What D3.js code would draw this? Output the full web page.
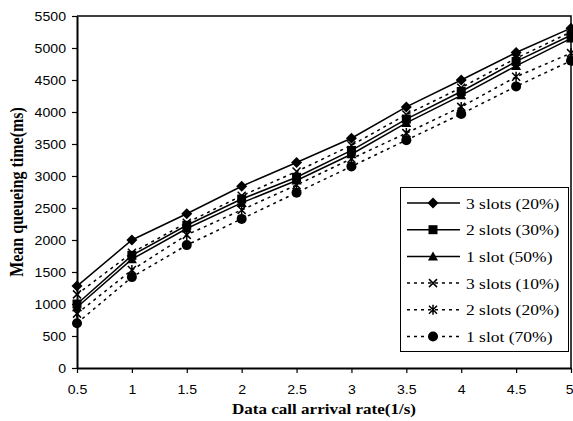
<!DOCTYPE html>
<html>
<head>
<meta charset="utf-8">
<script src="https://cdn.jsdelivr.net/npm/d3@7"></script>
<style>
  body { margin: 0; background: #fff; }
  svg { display: block; }
</style>
</head>
<body>
<svg id="chart" width="573" height="421"></svg>
<script>
// data
const rates = [0.5, 1, 1.5, 2, 2.5, 3, 3.5, 4, 4.5, 5];
const yTicks = [0, 500, 1000, 1500, 2000, 2500, 3000, 3500, 4000, 4500, 5000, 5500];

const slots3_20 = [1280, 2000, 2410, 2840, 3210, 3590, 4080, 4500, 4930, 5310];
const slots2_30 = [1000, 1760, 2230, 2640, 2980, 3400, 3890, 4320, 4790, 5200];
const slot1_50  = [950, 1700, 2180, 2580, 2930, 3340, 3830, 4260, 4720, 5150];
const slots3_10 = [1150, 1800, 2270, 2690, 3070, 3480, 3960, 4380, 4840, 5250];
const slots2_20 = [850, 1530, 2080, 2470, 2860, 3270, 3670, 4080, 4550, 4920];
const slot1_70  = [700, 1420, 1920, 2330, 2740, 3150, 3560, 3970, 4400, 4800];

const seriesNames = ['3 slots (20%)', '2 slots (30%)', '1 slot (50%)', '3 slots (10%)', '2 slots (20%)', '1 slot (70%)'];
const seriesValues = [slots3_20, slots2_30, slot1_50, slots3_10, slots2_20, slot1_70];
const seriesMarkers = ['diamond', 'square', 'triangle', 'x', 'star', 'circle'];
const seriesDashed = [false, false, false, true, true, true];

const svg = d3.select('#chart');
const plotLeft = 77, plotRight = 571, plotTop = 16, plotBottom = 368;
const stretch = 1.13; // the reference text is a bit wide

const x = d3.scaleLinear().domain([0.5, 5]).range([plotLeft, plotRight]);
const y = d3.scaleLinear().domain([0, 5500]).range([plotBottom, plotTop]);

// frame: top and right edges
svg.append('path')
    .attr('d', `M${plotLeft},${plotTop}H${plotRight}V${plotBottom}`)
    .attr('fill', 'none')
    .attr('stroke', '#000')
    .attr('stroke-width', 1.5);

// y axis
const yAxis = svg.append('g')
    .attr('transform', `translate(${plotLeft},0)`)
    .call(d3.axisLeft(y).tickValues(yTicks).tickFormat(d => String(d))
        .tickSize(5).tickSizeOuter(0).tickPadding(0));
yAxis.select('.domain').attr('stroke-width', 2);
yAxis.selectAll('.tick line').attr('stroke-width', 1.2);
yAxis.selectAll('.tick text')
    .attr('x', 0)
    .attr('dy', null)
    .attr('y', 0)
    .attr('transform', `translate(-11,4.5) scale(${stretch},1)`)
    .attr('font-family', 'Liberation Sans, Arial, sans-serif')
    .attr('font-size', 12.5)
    .attr('fill', '#000');

// x axis
const xAxis = svg.append('g')
    .attr('transform', `translate(0,${plotBottom})`)
    .call(d3.axisBottom(x).tickValues(rates).tickFormat(d => String(d))
        .tickSize(5).tickSizeOuter(0).tickPadding(0));
xAxis.select('.domain').attr('stroke-width', 2);
xAxis.selectAll('.tick line').attr('stroke-width', 1.2);
xAxis.selectAll('.tick text')
    .attr('y', 0)
    .attr('dy', null)
    .attr('transform', `translate(0,26) scale(${stretch},1)`)
    .attr('font-family', 'Liberation Sans, Arial, sans-serif')
    .attr('font-size', 12.5)
    .attr('fill', '#000');
// last label sits at the window edge, keep it inside
xAxis.selectAll('.tick text').filter(d => d === 5).attr('text-anchor', 'end')
    .attr('transform', `translate(2,26) scale(${stretch},1)`);

// axis titles
svg.append('text')
    .attr('transform', `translate(324,414) scale(1.1,1)`)
    .attr('text-anchor', 'middle')
    .attr('font-family', 'Liberation Serif, Times New Roman, serif')
    .attr('font-weight', 'bold')
    .attr('font-size', 15.5)
    .text('Data call arrival rate(1/s)');

svg.append('text')
    .attr('transform', `translate(23,192) rotate(-90) scale(1,${stretch})`)
    .attr('text-anchor', 'middle')
    .attr('font-family', 'Liberation Serif, Times New Roman, serif')
    .attr('font-weight', 'bold')
    .attr('font-size', 16)
    .text('Mean queueing time(ms)');

function markerPath(type) {
    if (type === 'diamond') return 'M0,-5.5L5.5,0L0,5.5L-5.5,0Z';
    if (type === 'square') return 'M-4.5,-4.5H4.5V4.5H-4.5Z';
    if (type === 'triangle') return 'M0,-5L5,4L-5,4Z';
    if (type === 'circle') return 'M5,0A5,5 0 1,1 -5,0A5,5 0 1,1 5,0Z';
    if (type === 'x') return 'M-4,-4L4,4M-4,4L4,-4';
    return 'M-4,-4L4,4M-4,4L4,-4M0,-5V5';
}

function drawMarker(g, type) {
    const open = type === 'x' || type === 'star';
    g.append('path')
        .attr('d', markerPath(type))
        .attr('fill', open ? 'none' : '#000')
        .attr('stroke', '#000')
        .attr('stroke-width', open ? 1.5 : 0);
}

const line = d3.line()
    .x((d, i) => x(rates[i]))
    .y(d => y(d));

seriesValues.forEach((vals, s) => {
    svg.append('path')
        .datum(vals)
        .attr('d', line)
        .attr('fill', 'none')
        .attr('stroke', '#000')
        .attr('stroke-width', 1.5)
        .attr('stroke-dasharray', seriesDashed[s] ? '3,4' : null);

    svg.append('g').selectAll('g')
        .data(vals)
        .join('g')
        .attr('transform', (d, i) => `translate(${x(rates[i])},${y(d)})`)
        .each(function () { drawMarker(d3.select(this), seriesMarkers[s]); });
});

// legend
const legend = svg.append('g');
legend.append('rect')
    .attr('x', 400.5)
    .attr('y', 187.5)
    .attr('width', 168)
    .attr('height', 164)
    .attr('fill', '#fff')
    .attr('stroke', '#000')
    .attr('stroke-width', 1);

const rowY = d3.scaleLinear().domain([0, 5]).range([203, 336.5]);
seriesNames.forEach((name, s) => {
    const row = legend.append('g').attr('transform', `translate(0,${rowY(s)})`);
    row.append('line')
        .attr('x1', 407).attr('x2', 460)
        .attr('stroke', '#000')
        .attr('stroke-width', 1.5)
        .attr('stroke-dasharray', seriesDashed[s] ? '3,4' : null);
    const m = row.append('g').attr('transform', 'translate(433,0)');
    drawMarker(m, seriesMarkers[s]);
    row.append('text')
        .attr('transform', `translate(466,5.5) scale(${stretch},1)`)
        .attr('font-family', 'Liberation Serif, Times New Roman, serif')
        .attr('font-size', 15.5)
        .text(name);
});
</script>
</body>
</html>
